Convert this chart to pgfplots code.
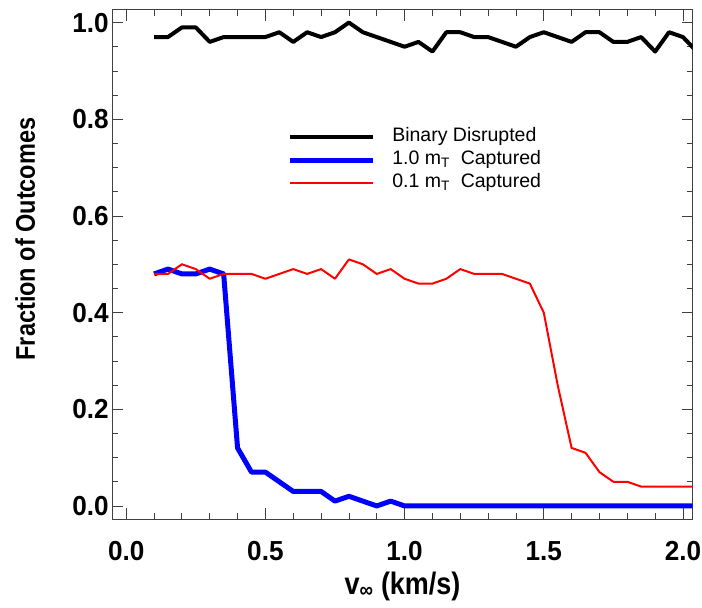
\documentclass[border=0pt]{standalone}
\usepackage{fontspec}
\setmainfont{Liberation Sans}
\newfontfamily\tickfont[FakeStretch=0.95]{Liberation Sans}
\newfontfamily\labfont[FakeStretch=0.87]{Liberation Sans}
\usepackage{pgfplots}
\pgfplotsset{compat=1.18}
\begin{document}
\begin{tikzpicture}
\useasboundingbox (-112.3pt,-89pt) rectangle (589.7pt,519pt);
\begin{axis}[
  at={(0pt,0pt)}, anchor=south west,
  scale only axis, width=580.4pt, height=509pt,
  xmin=-0.05, xmax=2.035, ymin=-0.027, ymax=1.026,
  xtick={0,0.5,1.0,1.5,2.0}, ytick={0,0.2,0.4,0.6,0.8,1.0},
  minor x tick num=4, minor y tick num=3,
  tick align=inside,
  major tick length=11pt, minor tick length=6pt,
  axis line style={black!75, line width=1pt},
  every tick/.style={black!75, line width=0.8pt},
  /pgf/number format/assume math mode=true,
  /pgf/number format/.cd, fixed, fixed zerofill, precision=1, /pgfplots/.cd,
  ticklabel style={font=\tickfont\bfseries\fontsize{27.5}{30}\selectfont},
  xticklabel style={yshift=-19pt},
  yticklabel style={xshift=0pt},
  xlabel={v\textsubscript{∞} (km/s)},
  ylabel={Fraction of Outcomes},
  xlabel style={font=\labfont\bfseries\fontsize{31}{34}\selectfont, at={(rel axis cs:0.5,0)}, anchor=base, yshift=-75pt},
  ylabel style={font=\labfont\bfseries\fontsize{27}{30}\selectfont, at={(rel axis cs:-0.15,0.55)}, anchor=center},
  legend style={draw=none, fill=none, at={(axis cs:0.578,0.783)}, anchor=north west,
    font=\fontsize{19.5}{21}\selectfont, inner sep=0pt, column sep=17pt, row sep=4pt,
    nodes={inner sep=0pt, text height=14pt, text depth=5pt}},
  legend cell align=left,
  legend image code/.code={\draw[#1] (0pt,0pt) -- (83pt,0pt);},
]
\addplot[black, line width=4pt, line join=round] coordinates {
(0.10,0.97) (0.15,0.97) (0.20,0.99) (0.25,0.99) (0.30,0.96) (0.35,0.97)
(0.40,0.97) (0.45,0.97) (0.50,0.97) (0.55,0.98) (0.60,0.96) (0.65,0.98)
(0.70,0.97) (0.75,0.98) (0.80,1.00) (0.85,0.98) (0.90,0.97) (0.95,0.96)
(1.00,0.95) (1.05,0.96) (1.10,0.94) (1.15,0.98) (1.20,0.98) (1.25,0.97)
(1.30,0.97) (1.35,0.96) (1.40,0.95) (1.45,0.97) (1.50,0.98) (1.55,0.97)
(1.60,0.96) (1.65,0.98) (1.70,0.98) (1.75,0.96) (1.80,0.96) (1.85,0.97)
(1.90,0.94) (1.95,0.98) (2.00,0.97) (2.05,0.94)
};
\addlegendentry{Binary Disrupted}
\addplot[blue, line width=5pt, line join=round] coordinates {
(0.10,0.48) (0.15,0.49) (0.20,0.48) (0.25,0.48) (0.30,0.49) (0.35,0.48)
(0.40,0.12) (0.45,0.07) (0.50,0.07) (0.55,0.05) (0.60,0.03) (0.65,0.03)
(0.70,0.03) (0.75,0.01) (0.80,0.02) (0.85,0.01) (0.90,0.00) (0.95,0.01)
(1.00,0.00) (1.05,0.00) (1.10,0.00) (1.15,0.00) (1.20,0.00) (1.25,0.00)
(1.30,0.00) (1.35,0.00) (1.40,0.00) (1.45,0.00) (1.50,0.00) (1.55,0.00)
(1.60,0.00) (1.65,0.00) (1.70,0.00) (1.75,0.00) (1.80,0.00) (1.85,0.00)
(1.90,0.00) (1.95,0.00) (2.00,0.00) (2.05,0.00)
};
\addlegendentry{1.0 m\textsubscript{T}\ \ Captured}
\addplot[red, line width=2pt, line join=round] coordinates {
(0.10,0.48) (0.15,0.48) (0.20,0.50) (0.25,0.49) (0.30,0.47) (0.35,0.48)
(0.40,0.48) (0.45,0.48) (0.50,0.47) (0.55,0.48) (0.60,0.49) (0.65,0.48)
(0.70,0.49) (0.75,0.47) (0.80,0.51) (0.85,0.50) (0.90,0.48) (0.95,0.49)
(1.00,0.47) (1.05,0.46) (1.10,0.46) (1.15,0.47) (1.20,0.49) (1.25,0.48)
(1.30,0.48) (1.35,0.48) (1.40,0.47) (1.45,0.46) (1.50,0.40) (1.55,0.25)
(1.60,0.12) (1.65,0.11) (1.70,0.07) (1.75,0.05) (1.80,0.05) (1.85,0.04)
(1.90,0.04) (1.95,0.04) (2.00,0.04) (2.05,0.04)
};
\addlegendentry{0.1 m\textsubscript{T}\ \ Captured}
\end{axis}
\end{tikzpicture}
\end{document}
